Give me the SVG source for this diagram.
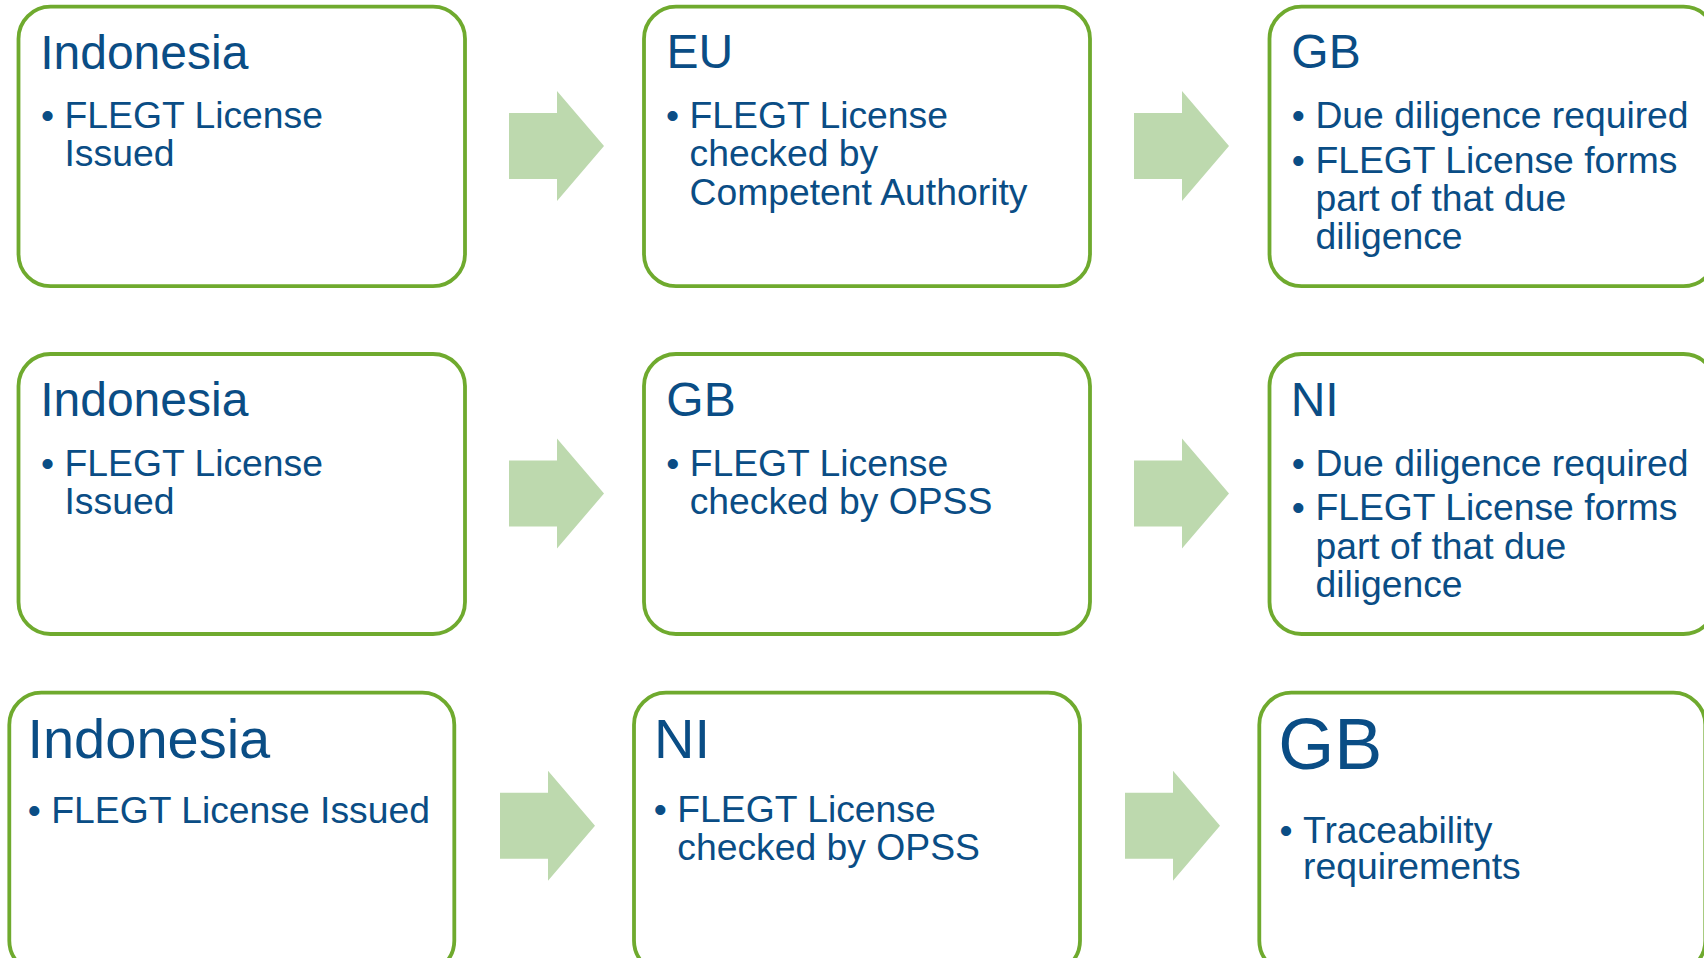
<svg xmlns="http://www.w3.org/2000/svg" xmlns:xlink="http://www.w3.org/1999/xlink" width="1704" height="958" viewBox="0 0 1704 958">
<style>
.box{fill:#FFFFFF;stroke:#6FAA2E;stroke-width:3.8}
.arrow{fill:#BDD9AE}
.t{font-family:"Liberation Sans",Arial,sans-serif;fill:#0A4D85}
.h{font-size:48px}
.hl{font-size:56px}
.hx{font-size:72px}
.b{font-size:37.3px}
.dot{font-size:37.3px;text-anchor:middle}
</style>
<defs>
<path id="arr" d="M0,-33 H48 V-55 L95,0 L48,55 V33 H0 Z"/>
</defs>
<rect width="1704" height="958" fill="#FFFFFF"/>
<g id="connectors" class="arrow">
<use xlink:href="#arr" href="#arr" x="509" y="146"/>
<use xlink:href="#arr" href="#arr" x="1134" y="146"/>
<use xlink:href="#arr" href="#arr" x="509" y="493.5"/>
<use xlink:href="#arr" href="#arr" x="1134" y="493.5"/>
<use xlink:href="#arr" href="#arr" x="500" y="825.7"/>
<use xlink:href="#arr" href="#arr" x="1125" y="825.7"/>
</g>
<g id="r1-indonesia">
<rect class="box" x="18.5" y="6.7" width="446.5" height="279.5" rx="32"/>
<text class="t h" x="40.2" y="68.5">Indonesia</text>
<text class="t dot" x="47.5" y="128">•</text>
<text class="t b" x="64.5" y="128">FLEGT License</text>
<text class="t b" x="64.5" y="166.4">Issued</text>
</g>
<g id="r1-eu">
<rect class="box" x="644" y="6.7" width="446" height="279.5" rx="32"/>
<text class="t h" x="666.5" y="68">EU</text>
<text class="t dot" x="672.5" y="128">•</text>
<text class="t b" x="689.5" y="128">FLEGT License</text>
<text class="t b" x="689.5" y="166.3">checked by</text>
<text class="t b" x="689.5" y="204.5">Competent Authority</text>
</g>
<g id="r1-gb">
<rect class="box" x="1269.5" y="6.7" width="446" height="279.5" rx="32"/>
<text class="t h" x="1291.3" y="68">GB</text>
<text class="t dot" x="1298.4" y="128">•</text>
<text class="t b" x="1315.4" y="128">Due diligence required</text>
<text class="t dot" x="1298.4" y="172.6">•</text>
<text class="t b" x="1315.4" y="172.6">FLEGT License forms</text>
<text class="t b" x="1315.4" y="211">part of that due</text>
<text class="t b" x="1315.4" y="249.4">diligence</text>
</g>
<g id="r2-indonesia">
<rect class="box" x="18.5" y="354" width="446.5" height="280" rx="32"/>
<text class="t h" x="40.2" y="416">Indonesia</text>
<text class="t dot" x="47.5" y="475.7">•</text>
<text class="t b" x="64.5" y="475.7">FLEGT License</text>
<text class="t b" x="64.5" y="514">Issued</text>
</g>
<g id="r2-gb">
<rect class="box" x="644" y="354" width="446" height="280" rx="32"/>
<text class="t h" x="666.3" y="416">GB</text>
<text class="t dot" x="672.7" y="475.7">•</text>
<text class="t b" x="689.7" y="475.7">FLEGT License</text>
<text class="t b" x="689.7" y="514.2">checked by OPSS</text>
</g>
<g id="r2-ni">
<rect class="box" x="1269.5" y="354" width="446" height="280" rx="32"/>
<text class="t h" x="1290.7" y="416">NI</text>
<text class="t dot" x="1298.4" y="475.7">•</text>
<text class="t b" x="1315.4" y="475.7">Due diligence required</text>
<text class="t dot" x="1298.4" y="520.3">•</text>
<text class="t b" x="1315.4" y="520.3">FLEGT License forms</text>
<text class="t b" x="1315.4" y="558.5">part of that due</text>
<text class="t b" x="1315.4" y="596.8">diligence</text>
</g>
<g id="r3-indonesia">
<rect class="box" x="9.3" y="692.7" width="445" height="280" rx="32"/>
<text class="t hl" x="27.4" y="758.3">Indonesia</text>
<text class="t dot" x="34.3" y="822.7">•</text>
<text class="t b" x="51.3" y="822.7">FLEGT License Issued</text>
</g>
<g id="r3-ni">
<rect class="box" x="634" y="692.7" width="446" height="280" rx="32"/>
<text class="t hl" x="654" y="757.5">NI</text>
<text class="t dot" x="660.3" y="821.8">•</text>
<text class="t b" x="677.3" y="821.8">FLEGT License</text>
<text class="t b" x="677.3" y="860">checked by OPSS</text>
</g>
<g id="r3-gb">
<rect class="box" x="1259.3" y="692.7" width="446" height="280" rx="32"/>
<text class="t hx" x="1278.2" y="769.3">GB</text>
<text class="t dot" x="1286" y="842.7">•</text>
<text class="t b" x="1303" y="842.7">Traceability</text>
<text class="t b" x="1303" y="879.3">requirements</text>
</g>
</svg>
